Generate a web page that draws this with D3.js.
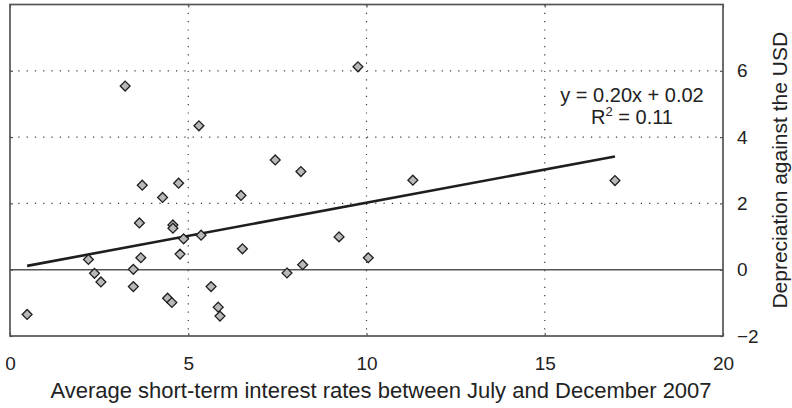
<!DOCTYPE html>
<html>
<head>
<meta charset="utf-8">
<script src="https://cdn.jsdelivr.net/npm/d3@7"></script>
<style>
  html, body { margin: 0; padding: 0; background: #fff; }
  svg { display: block; font-family: "Liberation Sans", Arial, Helvetica, sans-serif; }
  .tick text { fill: #222; }
</style>
</head>
<body>
<svg id="chart" width="792" height="408"></svg>
<script>
// Average short-term interest rate (Jul–Dec 2007) per currency
const rates = [0.48, 2.20, 2.37, 2.55, 3.23, 3.46, 3.46, 3.63, 3.67, 3.71,
               4.28, 4.42, 4.54, 4.57, 4.57, 4.73, 4.77, 4.87, 5.30, 5.36,
               5.64, 5.84, 5.89, 6.48, 6.52, 7.44, 7.77, 8.16, 8.21, 9.23,
               9.76, 10.05, 11.30, 16.97];
// Depreciation against the USD for the same currencies
const depreciation = [-1.35, 0.31, -0.11, -0.37, 5.54, 0.01, -0.51, 1.41, 0.36, 2.55,
                      2.18, -0.86, -0.99, 1.35, 1.25, 2.61, 0.47, 0.93, 4.34, 1.04,
                      -0.51, -1.13, -1.40, 2.24, 0.63, 3.31, -0.10, 2.96, 0.15, 0.99,
                      6.12, 0.36, 2.70, 2.69];

const xTicks = [0, 5, 10, 15, 20];
const yTicks = [-2, 0, 2, 4, 6];
const xGrid = [5, 10, 15];
const yGrid = [2, 4, 6];

// Linear trend fitted to the data
const slope = 0.20;
const intercept = 0.02;
const rSquared = 0.11;

const xTitle = "Average short-term interest rates between July and December 2007";
const yTitle = "Depreciation against the USD";

const svg = d3.select("#chart");
const plot = { left: 10, right: 723, top: 4.5, bottom: 336 };

const x = d3.scaleLinear().domain([0, 20]).range([plot.left, plot.right]);
const y = d3.scaleLinear().domain([-2, 8]).range([plot.bottom, plot.top]);

// dotted grid
const grid = svg.append("g")
  .attr("stroke", "#3a3a3a").attr("stroke-width", 1.2)
  .attr("stroke-dasharray", "1.2,7.1");
grid.selectAll("line.v").data(xGrid).join("line").attr("class", "v")
  .attr("x1", d => x(d)).attr("x2", d => x(d))
  .attr("y1", plot.top).attr("y2", plot.bottom);
grid.selectAll("line.h").data(yGrid).join("line").attr("class", "h")
  .attr("x1", plot.left).attr("x2", plot.right)
  .attr("y1", d => y(d)).attr("y2", d => y(d));

// zero line
svg.append("line")
  .attr("x1", plot.left).attr("x2", plot.right)
  .attr("y1", y(0)).attr("y2", y(0))
  .attr("stroke", "#555").attr("stroke-width", 1.4);

// axes
const fontTick = 19;
const xAxis = svg.append("g")
  .attr("transform", `translate(0,${plot.bottom})`)
  .call(d3.axisBottom(x).tickValues(xTicks).tickSize(-3).tickPadding(20.5));
const yAxis = svg.append("g")
  .attr("transform", `translate(${plot.right},0)`)
  .call(d3.axisRight(y).tickValues(yTicks).tickSize(-3).tickPadding(14));
const topAxis = svg.append("g")
  .attr("transform", `translate(0,${plot.top})`)
  .call(d3.axisTop(x).tickValues(xTicks).tickSize(-3).tickFormat(""));
const leftAxis = svg.append("g")
  .attr("transform", `translate(${plot.left},0)`)
  .call(d3.axisLeft(y).tickValues(yTicks).tickSize(-3).tickFormat(""));

[xAxis, yAxis, topAxis, leftAxis].forEach(g => {
  g.select(".domain").remove();
  g.selectAll(".tick line").attr("stroke", "#555").attr("stroke-width", 1.2);
  g.selectAll(".tick text").attr("font-size", fontTick).attr("font-family", null);
});

// frame
svg.append("rect")
  .attr("x", plot.left).attr("y", plot.top)
  .attr("width", plot.right - plot.left).attr("height", plot.bottom - plot.top)
  .attr("fill", "none").attr("stroke", "#555").attr("stroke-width", 1.7);

// trend line over the data range
const [xMin, xMax] = d3.extent(rates);
svg.append("line")
  .attr("x1", x(xMin)).attr("y1", y(slope * xMin + intercept))
  .attr("x2", x(xMax)).attr("y2", y(slope * xMax + intercept))
  .attr("stroke", "#1e1e1e").attr("stroke-width", 2.6);

// diamond markers
const diamond = d3.symbol().type(d3.symbolDiamond2).size(62);
svg.append("g").selectAll("path")
  .data(d3.zip(rates, depreciation))
  .join("path")
  .attr("transform", d => `translate(${x(d[0])},${y(d[1])})`)
  .attr("d", diamond)
  .attr("fill", "#b8b8b8")
  .attr("stroke", "#1e1e1e")
  .attr("stroke-width", 1.3);

// equation label
const eq = svg.append("text")
  .attr("text-anchor", "middle").attr("font-size", 20).attr("fill", "#222");
eq.append("tspan").attr("x", 632).attr("y", 101.5)
  .text(`y = ${slope.toFixed(2)}x + ${intercept.toFixed(2)}`);
const l2 = eq.append("tspan").attr("x", 632).attr("y", 124.3);
l2.append("tspan").text("R");
l2.append("tspan").attr("font-size", 13).attr("dy", -8).text("2");
l2.append("tspan").attr("dy", 8).text(` = ${rSquared.toFixed(2)}`);

// axis titles
svg.append("text")
  .attr("x", 381).attr("y", 398)
  .attr("text-anchor", "middle").attr("font-size", 22).attr("fill", "#222")
  .text(xTitle);
svg.append("text")
  .attr("transform", `translate(787,${(plot.top + plot.bottom) / 2}) rotate(-90)`)
  .attr("text-anchor", "middle").attr("font-size", 21).attr("fill", "#222")
  .text(yTitle);
</script>
</body>
</html>
